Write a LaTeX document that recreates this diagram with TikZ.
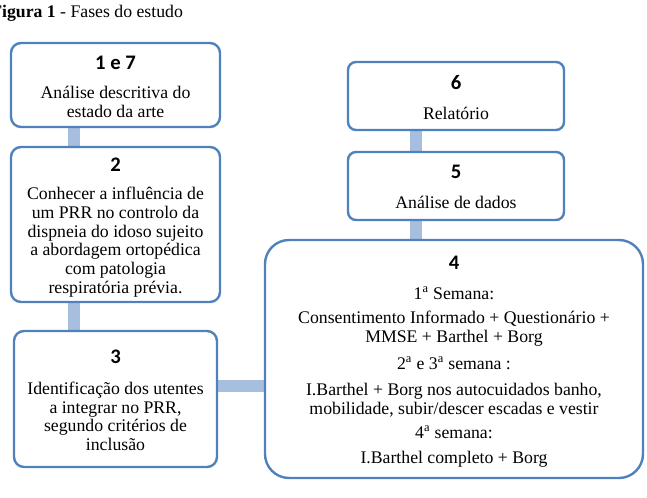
\documentclass[tikz,border=0pt]{standalone}
\usepackage{fontspec}
\setmainfont{Liberation Serif}
\newfontfamily\numfont{Carlito}
\usetikzlibrary{fit,backgrounds}
\definecolor{boxblue}{HTML}{4F81BD}
\definecolor{connblue}{HTML}{A7BFDE}
\tikzset{
  box/.style={draw=boxblue, line width=1.8pt, fill=white, inner sep=0pt, rounded corners=#1},
  box/.default=8pt,
  conn/.style={draw=connblue, line width=9pt},
  num/.style={font=\numfont\bfseries\fontsize{15.5}{17}\selectfont, inner sep=0pt},
  txt/.style={font=\fontsize{13.3}{14}\selectfont, align=center, inner sep=0pt},
}
\begin{document}
\begin{tikzpicture}[x=0.75pt, y=-0.75pt]
\useasboundingbox (0,0) rectangle (647,498);
% title
\node[anchor=base west, inner sep=0pt, font=\fontsize{13.3}{14}\selectfont] (title) at (-9,18) {\textbf{Figura 1} - Fases do estudo};
% boxes
\node[box=7.5pt, fit={(11,43) (220,127)}] (b1) {};
\node[box=7.5pt, fit={(11,147) (220,302)}] (b2) {};
\node[box=7.5pt, fit={(14,331) (217,467)}] (b3) {};
\node[box=18pt, fit={(265,240) (643,478)}] (b4) {};
\node[box=6pt, fit={(348,62) (564,130)}] (b6) {};
\node[box=6pt, fit={(348,152) (564,220)}] (b5) {};
% connector guides
\coordinate (c12) at (74,0);
\coordinate (c65) at (416,0);
\coordinate (c34) at (0,386);
\begin{pgfonlayer}{background}
\draw[conn] (b1.south -| c12) -- (b2.north -| c12);
\draw[conn] (b2.south -| c12) -- (b3.north -| c12);
\draw[conn] (b3.east |- c34) -- (b4.west |- c34);
\draw[conn] (b6.south -| c65) -- (b5.north -| c65);
\draw[conn] (b5.south -| c65) -- (b4.north -| c65);
\end{pgfonlayer}
% box 1
\node[num] (n1) at (115.5,63) {1 e 7};
\node[txt] (t1) at (115.5,102) {Análise descritiva do\\estado da arte};
% box 2
\node[num] (n2) at (115.5,165) {2};
\node[txt] (t2) at (115.5,242) {Conhecer a influência de\\um PRR no controlo da\\dispneia do idoso sujeito\\a abordagem ortopédica\\com patologia\\respiratória prévia.};
% box 3
\node[num] (n3) at (115.5,357) {3};
\node[txt] (t3) at (115.5,416.5) {Identificação dos utentes\\a integrar no PRR,\\segundo critérios de\\inclusão};
% box 4
\node[num] (n4) at (454,263) {4};
\node[txt] (t4a) at (454,293) {1\textsuperscript{a} Semana:};
\node[txt] (t4b) at (454,328.5) {Consentimento Informado + Questionário +\\MMSE + Barthel + Borg};
\node[txt] (t4c) at (454,363) {2\textsuperscript{a} e 3\textsuperscript{a} semana :};
\node[txt] (t4d) at (454,400.5) {I.Barthel + Borg nos autocuidados banho,\\mobilidade, subir/descer escadas e vestir};
\node[txt] (t4e) at (454,432) {4\textsuperscript{a} semana:};
\node[txt] (t4f) at (454,459) {I.Barthel completo + Borg};
% box 6
\node[num] (n6) at (456,83) {6};
\node[txt] (t6) at (456,113) {Relatório};
% box 5
\node[num] (n5) at (456,172) {5};
\node[txt] (t5) at (456,202) {Análise de dados};
\end{tikzpicture}
\end{document}
